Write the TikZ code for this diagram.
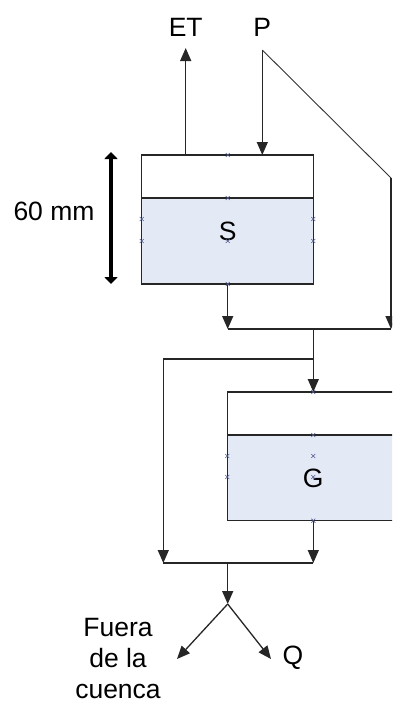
\documentclass[tikz,border=0pt]{standalone}
\usepackage{fontspec}
\setmainfont{Liberation Sans}
\usetikzlibrary{arrows.meta,calc}
\definecolor{waterc}{RGB}{228,234,245}
\definecolor{markc}{RGB}{80,90,140}
\tikzset{
  conn/.style={draw=black!85, line width=1.3pt, -{Triangle[length=13pt,width=11pt]}},
  plain/.style={draw=black!85, line width=1.3pt},
  thin/.style={draw=black!80, line width=0.9pt},
  tank/.style={draw=black!85, line width=1.3pt},
  water/.style={fill=waterc},
  lbl/.style={font=\fontsize{26.5}{31}\selectfont, inner sep=0pt},
}
\newcommand{\xmark}[1]{\draw[draw=markc, line width=0.6pt] ($#1+(-2,-2)$) -- ($#1+(2,2)$) ($#1+(-2,2)$) -- ($#1+(2,-2)$);}
\begin{document}
\begin{tikzpicture}[x=1pt,y=-1pt]
\useasboundingbox (0,0) rectangle (392,704);
\clip (0,0) rectangle (392,704);
% S tank
\fill[water] (141.7,198) rectangle (313.3,284);
\draw[tank] (141.7,155) rectangle (313.3,284);
\draw[tank] (141.7,198) -- (313.3,198);
% G tank
\fill[water] (227.3,435) rectangle (400,520.7);
\draw[tank] (400,392) -- (227.3,392) -- (227.3,520.7) -- (400,520.7);
\draw[tank] (227.3,435) -- (400,435);
% labels
\node[lbl] (et) at (185.7,27) {ET};
\node[lbl] (p) at (262.3,27) {P};
\node[lbl] (mm) at (54,211) {60 mm};
\node[lbl] (s) at (227.7,231) {S};
\node[lbl] (g) at (313.3,478) {G};
\node[lbl] (q) at (293,658) {Q};
\node[lbl, align=center] (fuera) at (118,659) {Fuera\\de la\\cuenca};
% coordinates
\coordinate (etb) at (185.7,155);
\coordinate (ett) at (185.7,48);
\coordinate (ptop) at (262.3,50);
\coordinate (pin) at (262.3,155);
\coordinate (rc) at (391,178);
\coordinate (rb) at (391,329);
\coordinate (sout) at (227.7,284);
\coordinate (j1l) at (227.7,329);
\coordinate (j1m) at (313.3,329);
\coordinate (br) at (313.3,359);
\coordinate (bl) at (163.3,359);
\coordinate (gin) at (313.3,392);
\coordinate (gout) at (313.3,520.7);
\coordinate (j2l) at (163.3,563);
\coordinate (j2r) at (313.3,563);
\coordinate (j2m) at (227.7,563);
\coordinate (split) at (227.7,604);
\coordinate (fend) at (177,659);
\coordinate (qend) at (271,659);
\coordinate (dtop) at (111,152);
\coordinate (dbot) at (111,284);
% connectors
\draw[conn] (etb) -- (ett);
\draw[conn] (ptop) -- (pin);
\draw[thin] (ptop) -- (rc);
\draw[conn] (rc) -- (rb);
\draw[conn] (sout) -- (j1l);
\draw[plain] (j1l) -- (rb);
\draw[conn] (j1m) -- (gin);
\draw[conn] (br) -- (bl) -- (j2l);
\draw[conn] (gout) -- (j2r);
\draw[plain] (j2l) -- (j2r);
\draw[conn] (j2m) -- (split);
\draw[conn] (split) -- (fend);
\draw[conn] (split) -- (qend);
\draw[line width=4.5pt, {Triangle[length=7pt,width=13pt]}-{Triangle[length=7pt,width=13pt]}] (dtop) -- (dbot);
% connection marks
\xmark{(227.7,155)} \xmark{(227.7,198)} \xmark{(227.7,241)} \xmark{(227.7,284)}
\xmark{(141.7,219)} \xmark{(141.7,241)} \xmark{(313.3,219)} \xmark{(313.3,241)}
\xmark{(313.3,392)} \xmark{(313.3,435)} \xmark{(313.3,456)} \xmark{(313.3,477)} \xmark{(313.3,520.7)}
\xmark{(227.3,456)} \xmark{(227.3,477)}
\end{tikzpicture}
\end{document}
